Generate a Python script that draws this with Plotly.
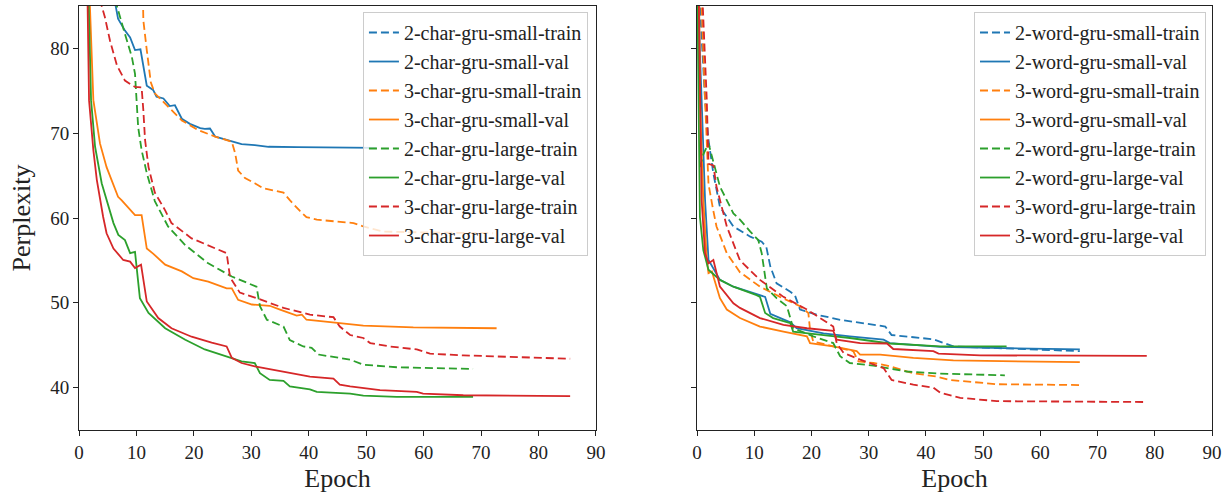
import plotly.graph_objects as go
from plotly.subplots import make_subplots

COLORS = {"blue": "#1f77b4", "orange": "#ff7f0e", "green": "#2ca02c", "red": "#d62728"}

# ---------------- left panel (char models) ----------------
c2s_train_e = [1, 10, 20, 30, 40, 52]
c2s_train_v = [300, 140, 110, 100, 95, 92]

c2s_val_e = [5.0, 6.8, 8.0, 8.9, 9.75, 10.7, 11.8, 12.9, 13.5, 14.7, 15.8, 16.7, 17.9, 19.3, 21.1, 21.9,
             22.8, 23.7, 24.8, 26.6, 28.3, 30.6, 33.0, 38.0, 45.0, 51.8]
c2s_val_v = [90, 83.5, 82.1, 81.3, 79.8, 79.9, 75.6, 75.1, 74.3, 74.1, 73.2, 73.3, 71.7, 71.1, 70.6, 70.5,
             70.55, 69.6, 69.4, 69.0, 68.7, 68.6, 68.4, 68.35, 68.3, 68.27]

c3s_train_e = [10.5, 11.2, 11.8, 12.5, 13.2, 15.0, 17.9, 20.8, 23.7, 26.6, 27.2, 27.7, 28.9, 30.6, 32.1,
               35.6, 36.7, 38.5, 39.6, 41.4, 44.3, 47.8, 49.5, 52.9, 60.0, 72.1]
c3s_train_v = [110, 83.3, 79.8, 76.0, 74.7, 73.5, 71.5, 70.35, 69.6, 69.0, 67.6, 65.6, 64.7, 64.1, 63.5,
               63.0, 62.1, 60.8, 60.1, 59.8, 59.6, 59.4, 59.0, 58.4, 58.3, 58.2]

c3s_val_e = [1.0, 1.9, 2.5, 3.65, 4.8, 6.8, 7.4, 9.75, 10.9, 11.8, 12.9, 15.0, 17.9, 19.9, 22.5, 25.7, 26.6,
             27.7, 30.1, 33.2, 35.0, 37.9, 38.8, 39.6, 42.5, 47.2, 49.5, 58.2, 72.7]
c3s_val_v = [140, 85, 73.9, 68.8, 66.0, 62.5, 62.1, 60.35, 60.35, 56.4, 55.8, 54.5, 53.7, 52.9, 52.5, 51.7,
             51.7, 50.35, 49.8, 49.65, 49.2, 48.5, 48.6, 48.0, 47.8, 47.5, 47.3, 47.1, 47.0]

c2l_train_e = [6.0, 6.6, 8.0, 9.2, 9.75, 10.0, 10.3, 10.9, 11.8, 13.2, 14.7, 15.5, 18.5, 22.5, 26.6, 30.6,
               30.9, 31.5, 32.7, 35.6, 36.7, 39.05, 40.5, 41.7, 44.9, 47.2, 49.5, 55.3, 68.6]
c2l_train_v = [90, 85, 81.7, 79.0, 77.0, 73.9, 70.7, 68.0, 65.3, 62.0, 60.0, 59.0, 56.8, 54.65, 53.1, 51.9,
               51.9, 49.6, 48.0, 47.2, 45.6, 44.85, 44.7, 43.9, 43.5, 43.3, 42.7, 42.4, 42.2]

c2l_val_e = [1.0, 1.7, 2.1, 2.8, 3.95, 4.8, 6.0, 6.85, 8.0, 8.9, 9.75, 10.6, 12.1, 15.0, 18.5, 21.9, 24.8,
             28.3, 30.6, 31.5, 33.2, 35.6, 36.7, 40.2, 41.4, 47.2, 49.5, 55.3, 68.6]
c2l_val_v = [140, 85, 73.9, 68.4, 64.1, 62.1, 59.4, 58.0, 57.4, 55.85, 56.0, 50.55, 48.8, 47.0, 45.65, 44.5,
             43.9, 43.1, 42.9, 41.7, 40.9, 40.8, 40.15, 39.8, 39.5, 39.3, 39.05, 38.9, 38.9]

c3l_train_e = [3.0, 3.95, 4.5, 5.4, 6.6, 8.0, 9.75, 10.9, 11.2, 11.5, 12.1, 13.2, 15.0, 16.1, 19.6, 22.5,
               25.7, 26.3, 28.0, 30.9, 35.6, 40.2, 44.3, 45.4, 47.2, 49.5, 50.7, 54.1, 58.8, 61.1, 66.9, 85.5]
c3l_train_v = [100, 85, 83.7, 80.9, 78.0, 76.2, 75.45, 75.4, 72.7, 69.2, 66.0, 63.0, 60.9, 59.4, 57.6, 56.8,
               55.85, 53.0, 51.2, 50.55, 49.4, 48.6, 48.3, 47.2, 46.2, 45.85, 45.25, 44.85, 44.5, 44.0, 43.8, 43.4]

c3l_val_e = [1.0, 1.5, 1.75, 2.5, 3.1, 3.65, 4.2, 4.8, 6.0, 7.7, 8.9, 9.75, 10.8, 11.8, 13.8, 16.1, 19.6,
             23.1, 25.7, 26.6, 28.3, 30.6, 35.6, 40.2, 44.3, 45.4, 47.2, 49.5, 52.4, 58.8, 59.9, 66.9, 85.5]
c3l_val_v = [140, 85, 73.9, 68.0, 64.5, 62.1, 60.15, 58.2, 56.4, 55.05, 54.85, 54.1, 54.5, 50.15, 48.2, 47.0,
             46.0, 45.3, 44.85, 43.5, 42.9, 42.5, 41.9, 41.3, 41.05, 40.35, 40.15, 39.95, 39.7, 39.5, 39.3,
             39.1, 39.0]

# ---------------- right panel (word models) ----------------
w2s_train_e = [0.0, 0.5, 1.4, 2.0, 2.85, 4.0, 6.35, 9.3, 11.3, 12.1, 12.8, 13.9, 16.3, 17.1, 18.0, 20.9,
               25.0, 27.9, 32.9, 34.0, 37.8, 41.3, 42.3, 44.8, 66.9]
w2s_train_v = [140, 85, 73.9, 69.2, 65.25, 61.3, 59.0, 57.8, 57.2, 56.6, 54.3, 52.3, 51.3, 50.9, 49.2, 48.6,
               48.0, 47.7, 47.2, 46.2, 45.9, 45.7, 45.45, 44.85, 44.3]

w2s_val_e = [0.0, 0.2, 0.8, 1.4, 2.0, 2.6, 4.0, 6.35, 9.8, 11.9, 12.8, 16.3, 17.4, 22.1, 26.7, 32.6, 33.7,
             42.5, 66.9]
w2s_val_v = [120, 85, 73.9, 62.1, 55.05, 54.3, 52.7, 51.9, 51.1, 50.7, 48.7, 47.7, 47.0, 46.4, 46.05, 45.65,
             45.25, 44.8, 44.5]

w3s_train_e = [0.3, 0.8, 1.4, 1.7, 2.0, 2.8, 3.4, 5.2, 7.5, 11.0, 14.5, 18.0, 19.45, 19.75, 20.3, 23.8,
               27.3, 28.2, 30.8, 33.2, 37.8, 41.9, 44.2, 52.4, 66.9]
w3s_train_v = [140, 85, 73.9, 68.8, 64.0, 61.0, 59.0, 55.85, 53.6, 51.9, 50.7, 49.6, 48.8, 46.8, 45.45,
               44.85, 44.3, 43.1, 42.9, 42.6, 41.7, 41.3, 40.9, 40.4, 40.3]

w3s_val_e = [0.0, 0.5, 1.1, 1.7, 2.0, 2.6, 4.0, 5.2, 7.5, 11.0, 15.1, 19.2, 19.75, 23.8, 27.9, 28.5, 32.0,
             37.8, 44.8, 66.9]
w3s_val_v = [120, 73.9, 62.1, 55.05, 53.5, 53.7, 50.55, 49.2, 48.2, 47.2, 46.6, 46.05, 45.25, 44.85, 44.3,
             43.9, 43.9, 43.5, 43.2, 43.0]

w2l_train_e = [0.5, 1.1, 2.0, 4.0, 6.35, 7.5, 9.3, 10.7, 11.3, 12.2, 13.9, 15.7, 16.3, 16.8, 18.3, 20.3,
               23.8, 25.0, 26.7, 30.8, 36.6, 42.5, 53.8]
w2l_train_v = [66.0, 67.5, 68.8, 63.7, 60.55, 59.8, 58.4, 57.4, 55.85, 51.7, 50.55, 49.6, 48.2, 47.0, 46.6,
               46.05, 45.25, 43.7, 42.9, 42.6, 41.9, 41.65, 41.45]

w2l_val_e = [0.0, 0.5, 1.1, 2.0, 4.0, 6.35, 10.4, 11.0, 11.9, 13.3, 16.3, 16.8, 22.1, 26.7, 33.7, 42.5, 54.1]
w2l_val_v = [90, 60.15, 56.2, 53.9, 52.7, 51.9, 50.9, 50.7, 48.8, 48.2, 47.6, 46.6, 46.2, 45.85, 45.2,
             44.85, 44.85]

w3l_train_e = [0.3, 1.0, 1.7, 2.0, 2.85, 3.4, 5.2, 7.5, 11.0, 15.1, 19.2, 23.8, 24.4, 25.6, 28.5, 32.6,
               34.0, 37.8, 41.3, 42.5, 46.0, 52.4, 78.6]
w3l_train_v = [140, 85, 73.9, 66.4, 66.2, 63.7, 59.0, 55.0, 52.7, 50.7, 49.2, 47.2, 45.25, 44.1, 43.3, 42.3,
               40.9, 40.35, 40.0, 39.4, 38.8, 38.4, 38.3]

w3l_val_e = [0.0, 0.8, 1.4, 2.0, 2.85, 4.0, 6.35, 7.5, 10.4, 11.0, 15.1, 19.2, 23.8, 24.4, 28.5, 33.2, 34.3,
             41.3, 42.2, 49.5, 78.6]
w3l_val_v = [100, 62.1, 55.85, 54.65, 55.05, 51.9, 49.95, 49.4, 48.4, 48.2, 47.4, 47.0, 46.7, 45.65, 45.25,
             45.2, 44.55, 44.3, 44.0, 43.8, 43.75]

left_series = [
    ("2-char-gru-small-train", c2s_train_e, c2s_train_v, "blue", True),
    ("2-char-gru-small-val", c2s_val_e, c2s_val_v, "blue", False),
    ("3-char-gru-small-train", c3s_train_e, c3s_train_v, "orange", True),
    ("3-char-gru-small-val", c3s_val_e, c3s_val_v, "orange", False),
    ("2-char-gru-large-train", c2l_train_e, c2l_train_v, "green", True),
    ("2-char-gru-large-val", c2l_val_e, c2l_val_v, "green", False),
    ("3-char-gru-large-train", c3l_train_e, c3l_train_v, "red", True),
    ("3-char-gru-large-val", c3l_val_e, c3l_val_v, "red", False),
]
right_series = [
    ("2-word-gru-small-train", w2s_train_e, w2s_train_v, "blue", True),
    ("2-word-gru-small-val", w2s_val_e, w2s_val_v, "blue", False),
    ("3-word-gru-small-train", w3s_train_e, w3s_train_v, "orange", True),
    ("3-word-gru-small-val", w3s_val_e, w3s_val_v, "orange", False),
    ("2-word-gru-large-train", w2l_train_e, w2l_train_v, "green", True),
    ("2-word-gru-large-val", w2l_val_e, w2l_val_v, "green", False),
    ("3-word-gru-large-train", w3l_train_e, w3l_train_v, "red", True),
    ("3-word-gru-large-val", w3l_val_e, w3l_val_v, "red", False),
]

FONT = "Liberation Serif"
fig = make_subplots(rows=1, cols=2, shared_yaxes=True, horizontal_spacing=0.0892)

for col, series, leg in [(1, left_series, "legend"), (2, right_series, "legend2")]:
    for name, xs, ys, c, dashed in series:
        fig.add_trace(go.Scatter(
            x=xs, y=ys, mode="lines", name=name, legend=leg,
            line=dict(color=COLORS[c], width=1.8, dash="8px,4px" if dashed else "solid"),
        ), row=1, col=col)

axis_common = dict(
    range=[0, 90], tickvals=list(range(0, 100, 10)), showline=True, mirror=True,
    linecolor="#222", linewidth=1, ticks="outside", ticklen=5, tickcolor="#222",
    showgrid=False, zeroline=False, tickfont=dict(family=FONT, size=19, color="#222"),
    title=dict(text="Epoch", font=dict(family=FONT, size=26, color="#222"), standoff=7),
)
fig.update_xaxes(**axis_common, row=1, col=1)
fig.update_xaxes(**axis_common, row=1, col=2)
fig.update_xaxes(domain=[0, 0.4563], row=1, col=1)
fig.update_xaxes(domain=[0.5455, 1.0], row=1, col=2)

fig.update_yaxes(range=[35, 85], tickvals=[40, 50, 60, 70, 80], showline=True, mirror=True,
                 linecolor="#222", linewidth=1, ticks="outside", ticklen=5, tickcolor="#222",
                 showgrid=False, zeroline=False, tickfont=dict(family=FONT, size=19, color="#222"))
fig.update_yaxes(title=dict(text="Perplexity", font=dict(family=FONT, size=26, color="#222"), standoff=12),
                 row=1, col=1)
fig.update_yaxes(showticklabels=False, row=1, col=2)

legend_common = dict(
    bgcolor="rgba(255,255,255,0.8)", bordercolor="#cccccc", borderwidth=1,
    font=dict(family=FONT, size=20, color="#222"), xanchor="right", yanchor="top",
    tracegroupgap=0, itemwidth=30,
)
fig.update_layout(
    width=1230, height=497,
    margin=dict(l=79, r=18, t=6, b=67),
    paper_bgcolor="white", plot_bgcolor="white",
    legend=dict(x=0.4492, y=0.9858, **legend_common),
    legend2=dict(x=0.9947, y=0.9858, **legend_common),
)
fig.write_html("out.html")
